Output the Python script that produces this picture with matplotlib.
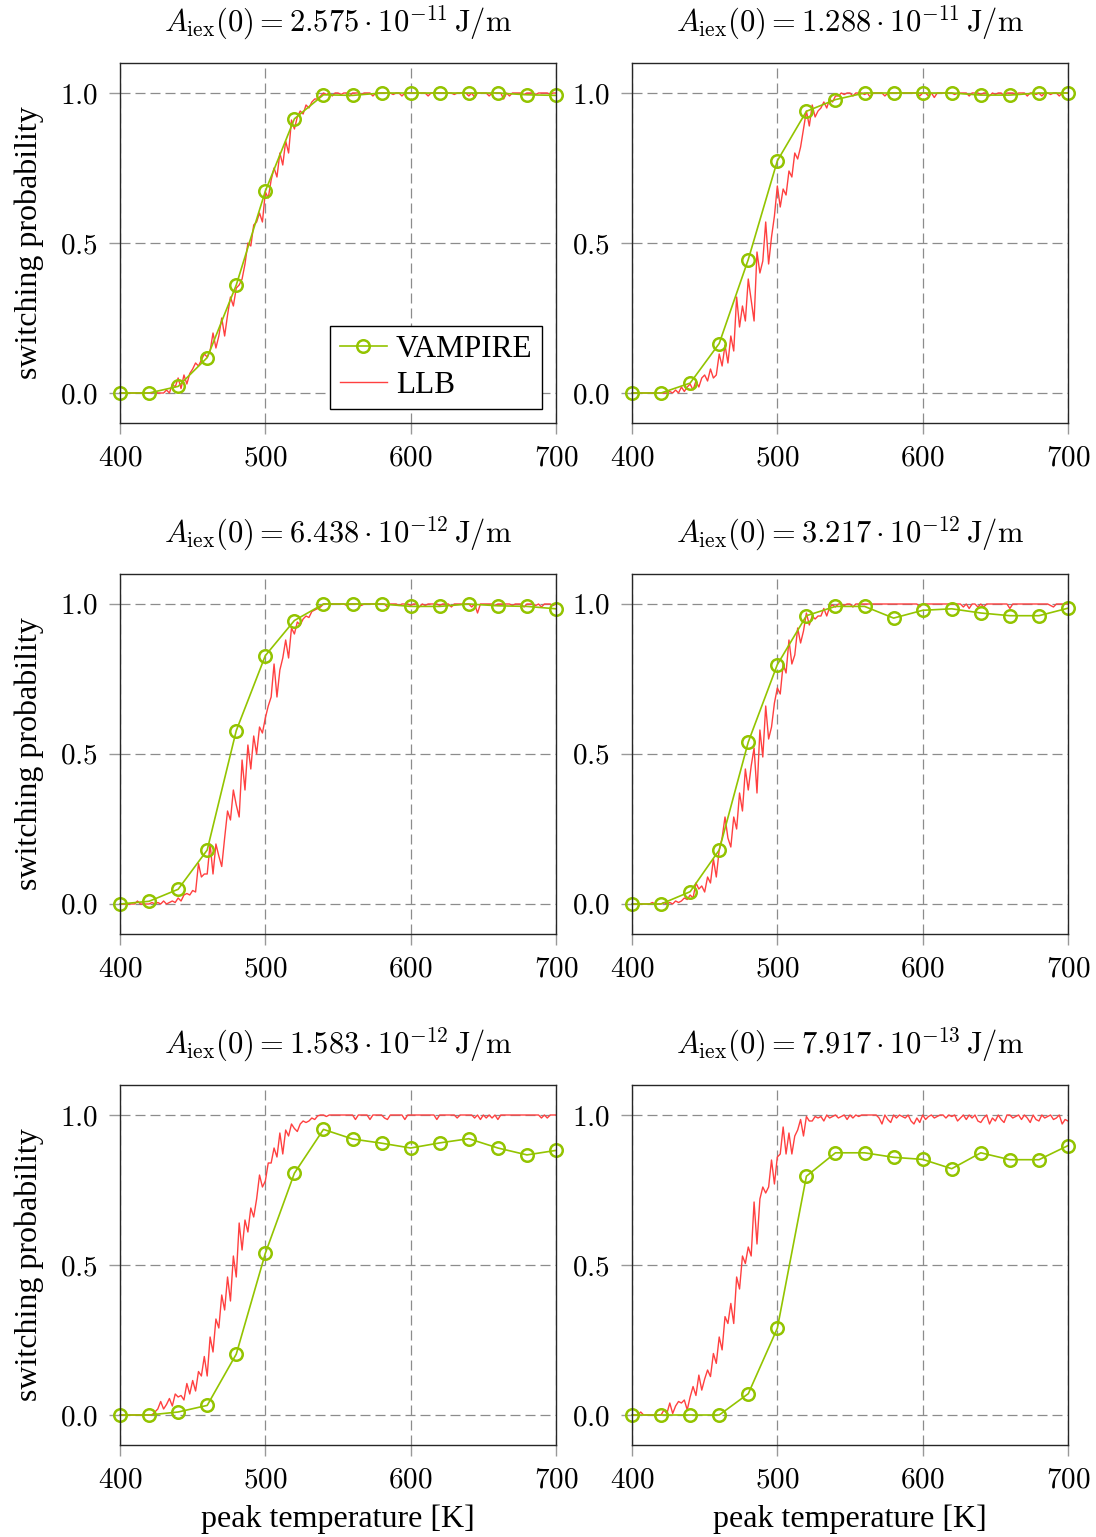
import numpy as np
import matplotlib.pyplot as plt
from matplotlib.ticker import FuncFormatter

plt.rcParams['font.family'] = ['Liberation Serif', 'DejaVu Serif']
plt.rcParams['mathtext.fontset'] = 'cm'

# -----------------------------
# Data
# -----------------------------
t_vampire = [400, 420, 440, 460, 480, 500, 520, 540, 560, 580, 600, 620, 640, 660, 680, 700]
t_llb = np.arange(400, 701, 2)

mantissas = ['2.575', '1.288', '6.438', '3.217', '1.583', '7.917']
exponents = ['-11', '-11', '-12', '-12', '-12', '-13']

vampire_1 = [0, 0, 0.022, 0.118, 0.36, 0.673, 0.914, 0.994, 0.992, 1.0, 1.0, 1.0, 1.0, 1.0, 0.994, 0.992]
vampire_2 = [0, 0, 0.033, 0.165, 0.445, 0.774, 0.939, 0.978, 1.0, 1.0, 1.0, 1.0, 0.993, 0.993, 1.0, 1.0]
vampire_3 = [0, 0.009, 0.049, 0.18, 0.578, 0.828, 0.945, 1.0, 1.0, 1.0, 0.992, 0.992, 1.0, 0.994, 0.992, 0.984]
vampire_4 = [0, 0, 0.041, 0.18, 0.54, 0.798, 0.961, 0.992, 0.992, 0.953, 0.979, 0.984, 0.97, 0.961, 0.961, 0.986]
vampire_5 = [0, 0, 0.01, 0.032, 0.203, 0.539, 0.806, 0.952, 0.92, 0.906, 0.89, 0.907, 0.921, 0.89, 0.867, 0.882]
vampire_6 = [0, 0, 0, 0, 0.071, 0.289, 0.796, 0.874, 0.874, 0.859, 0.852, 0.821, 0.874, 0.851, 0.851, 0.898]

llb_1 = [0, 0, 0, 0, 0, 0, 0, 0, 0, 0,
         0, 0, 0.005, 0, 0, 0, 0.01, 0, 0.03, 0.02,
         0.05, 0.015, 0.06, 0.03, 0.065, 0.08, 0.10, 0.09, 0.11, 0.13,
         0.12, 0.14, 0.20, 0.15, 0.19, 0.25, 0.19, 0.26, 0.32, 0.29,
         0.35, 0.36, 0.38, 0.43, 0.50, 0.49, 0.56, 0.57, 0.60, 0.57,
         0.67, 0.65, 0.71, 0.75, 0.72, 0.80, 0.76, 0.84, 0.80, 0.91,
         0.88, 0.92, 0.94, 0.93, 0.96, 0.95, 0.97, 0.98, 0.98, 0.99,
         1, 0.995, 1, 0.99, 1, 1, 0.995, 1, 1, 0.99,
         1, 1, 1, 0.995, 1, 1, 1, 0.99, 1, 1,
         1, 1, 1, 1, 0.995, 1, 1, 0.99, 1, 1,
         1, 1, 1, 1, 1, 1, 0.99, 1, 1, 1,
         1, 1, 1, 1, 1, 0.995, 1, 1, 1, 1,
         0.99, 1, 0.985, 1, 1, 1, 1, 0.99, 1, 1,
         1, 1, 0.98, 1, 0.99, 1, 1, 1, 1, 0.995,
         1, 1, 1, 0.995, 1, 1, 1, 1, 0.995, 1,
         1]

llb_2 = [0, 0, 0, 0, 0, 0, 0, 0, 0, 0,
         0, 0, 0, 0.005, 0, 0.01, 0, 0.02, 0.005, 0.02,
         0.03, 0.01, 0.04, 0.02, 0.05, 0.06, 0.04, 0.08, 0.05, 0.06,
         0.13, 0.09, 0.16, 0.10, 0.19, 0.14, 0.32, 0.22, 0.29, 0.24,
         0.38, 0.31, 0.24, 0.47, 0.40, 0.44, 0.57, 0.43, 0.52, 0.59,
         0.69, 0.62, 0.68, 0.66, 0.74, 0.72, 0.80, 0.78, 0.82, 0.88,
         0.94, 0.89, 0.96, 0.92, 0.94, 0.95, 0.97, 0.95, 0.98, 0.97,
         0.99, 0.99, 1, 0.995, 1, 1, 0.99, 1, 1, 1,
         0.995, 1, 0.985, 1, 1, 1, 1, 0.99, 1, 1,
         1, 1, 1, 1, 1, 1, 1, 1, 1, 0.99,
         1, 1, 0.99, 1, 0.985, 1, 1, 1, 1, 1,
         1, 0.995, 1, 1, 1, 1, 0.99, 1, 1, 1,
         0.995, 1, 1, 0.99, 1, 0.995, 1, 1, 0.99, 1,
         1, 1, 0.995, 1, 1, 1, 0.99, 1, 1, 0.995,
         1, 0.99, 1, 1, 0.995, 1, 1, 0.99, 1, 1,
         1]

llb_3 = [0, 0, 0, 0, 0, 0, 0.01, 0, 0, 0,
         0, 0.005, 0, 0.005, 0, 0.01, 0, 0.005, 0.01, 0.005,
         0.02, 0.01, 0.03, 0.035, 0.03, 0.045, 0.04, 0.135, 0.09, 0.10,
         0.10, 0.20, 0.10, 0.20, 0.16, 0.125, 0.22, 0.31, 0.28, 0.38,
         0.33, 0.29, 0.48, 0.38, 0.53, 0.45, 0.56, 0.50, 0.59, 0.57,
         0.62, 0.66, 0.69, 0.80, 0.69, 0.78, 0.82, 0.88, 0.82, 0.92,
         0.90, 0.94, 0.93, 0.95, 0.96, 0.955, 0.975, 0.98, 0.985, 0.99,
         1, 1, 1, 1, 1, 1, 1, 1, 0.995, 1,
         1, 1, 1, 0.995, 1, 1, 1, 1, 1, 1,
         1, 1, 0.99, 1, 1, 1, 0.995, 1, 1, 1,
         0.995, 1, 1, 0.99, 1, 0.995, 1, 1, 1, 1,
         0.995, 1, 1, 1, 0.99, 1, 1, 1, 1, 1,
         1, 0.99, 1, 0.97, 1, 1, 1, 1, 1, 0.995,
         1, 1, 1, 1, 1, 0.995, 1, 1, 1, 0.99,
         1, 1, 1, 0.995, 1, 0.99, 1, 1, 1, 0.995,
         1]

llb_4 = [0, 0, 0, 0, 0, 0, 0, 0.005, 0, 0,
         0, 0.005, 0, 0.005, 0, 0.01, 0.005, 0.01, 0.02, 0.015,
         0.03, 0.02, 0.07, 0.05, 0.06, 0.04, 0.09, 0.07, 0.15, 0.09,
         0.18, 0.22, 0.29, 0.22, 0.19, 0.29, 0.25, 0.37, 0.31, 0.45,
         0.38, 0.46, 0.52, 0.37, 0.58, 0.49, 0.66, 0.55, 0.59, 0.67,
         0.72, 0.70, 0.80, 0.77, 0.88, 0.80, 0.83, 0.92, 0.87, 0.91,
         0.97, 0.93, 0.96, 0.95, 0.96, 0.96, 0.985, 0.96, 0.99, 0.997,
         0.99, 1, 1, 0.995, 1, 1, 0.99, 1, 1, 1,
         1, 1, 1, 1, 1, 1, 1, 1, 1, 1,
         1, 1, 1, 1, 1, 1, 1, 1, 1, 0.99,
         1, 1, 1, 1, 1, 1, 1, 1, 1, 1,
         1, 1, 1, 1, 0.99, 1, 0.985, 1, 1, 0.99,
         1, 0.99, 1, 1, 1, 1, 1, 1, 1, 1,
         0.985, 1, 1, 1, 1, 1, 1, 1, 1, 1,
         1, 1, 1, 1, 0.995, 0.99, 1, 1, 1, 1,
         1]

llb_5 = [0, 0, 0, 0, 0, 0, 0, 0, 0, 0,
         0, 0, 0.01, 0.02, 0.045, 0.02, 0.035, 0.055, 0.03, 0.07,
         0.06, 0.065, 0.05, 0.105, 0.07, 0.115, 0.08, 0.145, 0.13, 0.195,
         0.13, 0.26, 0.21, 0.32, 0.29, 0.40, 0.35, 0.46, 0.38, 0.53,
         0.46, 0.64, 0.55, 0.65, 0.61, 0.69, 0.66, 0.72, 0.80, 0.76,
         0.78, 0.84, 0.84, 0.89, 0.86, 0.94, 0.87, 0.95, 0.93, 0.97,
         0.955, 0.945, 0.97, 0.98, 0.975, 0.98, 0.99, 0.985, 0.997, 1,
         1, 0.995, 1, 1, 1, 1, 1, 1, 1, 1,
         1, 0.985, 1, 1, 1, 1, 0.985, 1, 1, 1,
         1, 0.99, 0.985, 1, 1, 1, 1, 1, 0.985, 1,
         1, 1, 1, 1, 1, 1, 1, 1, 1, 0.985,
         1, 1, 1, 1, 1, 1, 0.99, 1, 1, 1,
         1, 1, 0.99, 1, 0.985, 1, 0.99, 1, 0.99, 1,
         0.985, 1, 1, 1, 1, 1, 1, 1, 1, 1,
         1, 1, 1, 1, 1, 0.99, 1, 0.99, 1, 1,
         1]

llb_6 = [0, 0, 0, 0.01, 0, 0, 0, 0, 0, 0,
         0, 0.017, 0.005, 0.04, 0.005, 0.03, 0.045, 0.04, 0.05, 0.017,
         0.06, 0.095, 0.065, 0.133, 0.083, 0.12, 0.15, 0.128, 0.205, 0.172,
         0.26, 0.217, 0.328, 0.305, 0.372, 0.305, 0.46, 0.42, 0.53, 0.505,
         0.56, 0.53, 0.71, 0.57, 0.72, 0.76, 0.74, 0.76, 0.85, 0.77,
         0.86, 0.87, 0.96, 0.87, 0.94, 0.87, 0.93, 0.95, 0.985, 0.93,
         0.995, 0.98, 0.98, 0.995, 0.99, 0.995, 0.98, 1, 0.99, 0.995,
         1, 0.99, 0.995, 1, 0.985, 1, 0.99, 1, 0.995, 1,
         1, 1, 1, 1, 1, 0.99, 0.97, 1, 0.985, 0.975,
         1, 0.99, 1, 0.995, 0.99, 1, 0.98, 0.97, 0.99, 0.975,
         1, 0.985, 0.995, 1, 0.99, 0.995, 1, 1, 0.99, 1,
         0.995, 1, 0.98, 0.99, 1, 0.985, 1, 0.99, 1, 0.98,
         0.975, 0.99, 1, 0.97, 0.99, 0.98, 1, 0.985, 0.975, 1,
         1, 0.99, 0.995, 1, 0.985, 1, 0.99, 0.975, 1, 0.985,
         0.98, 1, 0.99, 0.995, 1, 0.985, 0.99, 1, 0.97, 0.985,
         0.98]

vampire_all = [vampire_1, vampire_2, vampire_3, vampire_4, vampire_5, vampire_6]
llb_all = [llb_1, llb_2, llb_3, llb_4, llb_5, llb_6]

# -----------------------------
# Figure
# -----------------------------
W, H = 1096, 1537
fig = plt.figure(figsize=(W / 100, H / 100), dpi=100)

lefts = [120, 632]
tops = [63, 574, 1085]
ax_w, ax_h = 436, 360

green = '#93c400'
red = '#ff4040'
fs = 21
fs_label = 23

math_fmt_x = FuncFormatter(lambda v, p: f'${v:.0f}$')
math_fmt_y = FuncFormatter(lambda v, p: f'${v:.1f}$')

for i in range(6):
    row, col = divmod(i, 2)
    x0 = lefts[col] / W
    y0 = 1 - (tops[row] + ax_h) / H
    ax = fig.add_axes([x0, y0, ax_w / W, ax_h / H])

    ax.plot(t_llb, llb_all[i], color=red, lw=1.0, label='LLB', zorder=2)
    ax.plot(t_vampire, vampire_all[i], color=green, lw=1.2, marker='o',
            ms=9, mfc='none', mec=green, mew=1.8, label='VAMPIRE',
            zorder=3, clip_on=False)

    ax.set_xlim(400, 700)
    ax.set_ylim(-0.1, 1.1)
    ax.set_xticks([400, 500, 600, 700])
    ax.set_yticks([0.0, 0.5, 1.0])
    ax.xaxis.set_major_formatter(math_fmt_x)
    ax.yaxis.set_major_formatter(math_fmt_y)
    ax.tick_params(direction='out', length=8, width=1, color='0.6',
                   labelsize=fs, pad=8)
    ax.grid(True, color='0.55', lw=0.9, linestyle=(0, (8, 4)))
    ax.set_axisbelow(True)
    for sp in ax.spines.values():
        sp.set_color('0.15')
        sp.set_linewidth(1.0)
        sp.set_zorder(4)

    ax.set_title(r'$A_{\mathrm{iex}}(0) = ' + mantissas[i] + r' \cdot 10^{'
                 + exponents[i] + r'}\,\mathrm{J}/\mathrm{m}$',
                 fontsize=22, pad=23)

    if col == 0:
        ax.set_ylabel('switching probability', fontsize=fs_label, labelpad=11)
    if row == 2:
        ax.set_xlabel('peak temperature [K]', fontsize=fs_label, labelpad=8)

    if i == 0:
        handles, labels = ax.get_legend_handles_labels()
        leg = ax.legend(handles[::-1], labels[::-1], loc='lower right',
                        fontsize=22.5, frameon=True, fancybox=False,
                        edgecolor='black', framealpha=1, numpoints=1,
                        handlelength=1.5, handletextpad=0.3,
                        labelspacing=0.2, borderpad=0.3,
                        borderaxespad=0.45)
        leg.get_frame().set_linewidth(1.0)
        leg.set_zorder(5)

fig.savefig('out.png', dpi=100)
